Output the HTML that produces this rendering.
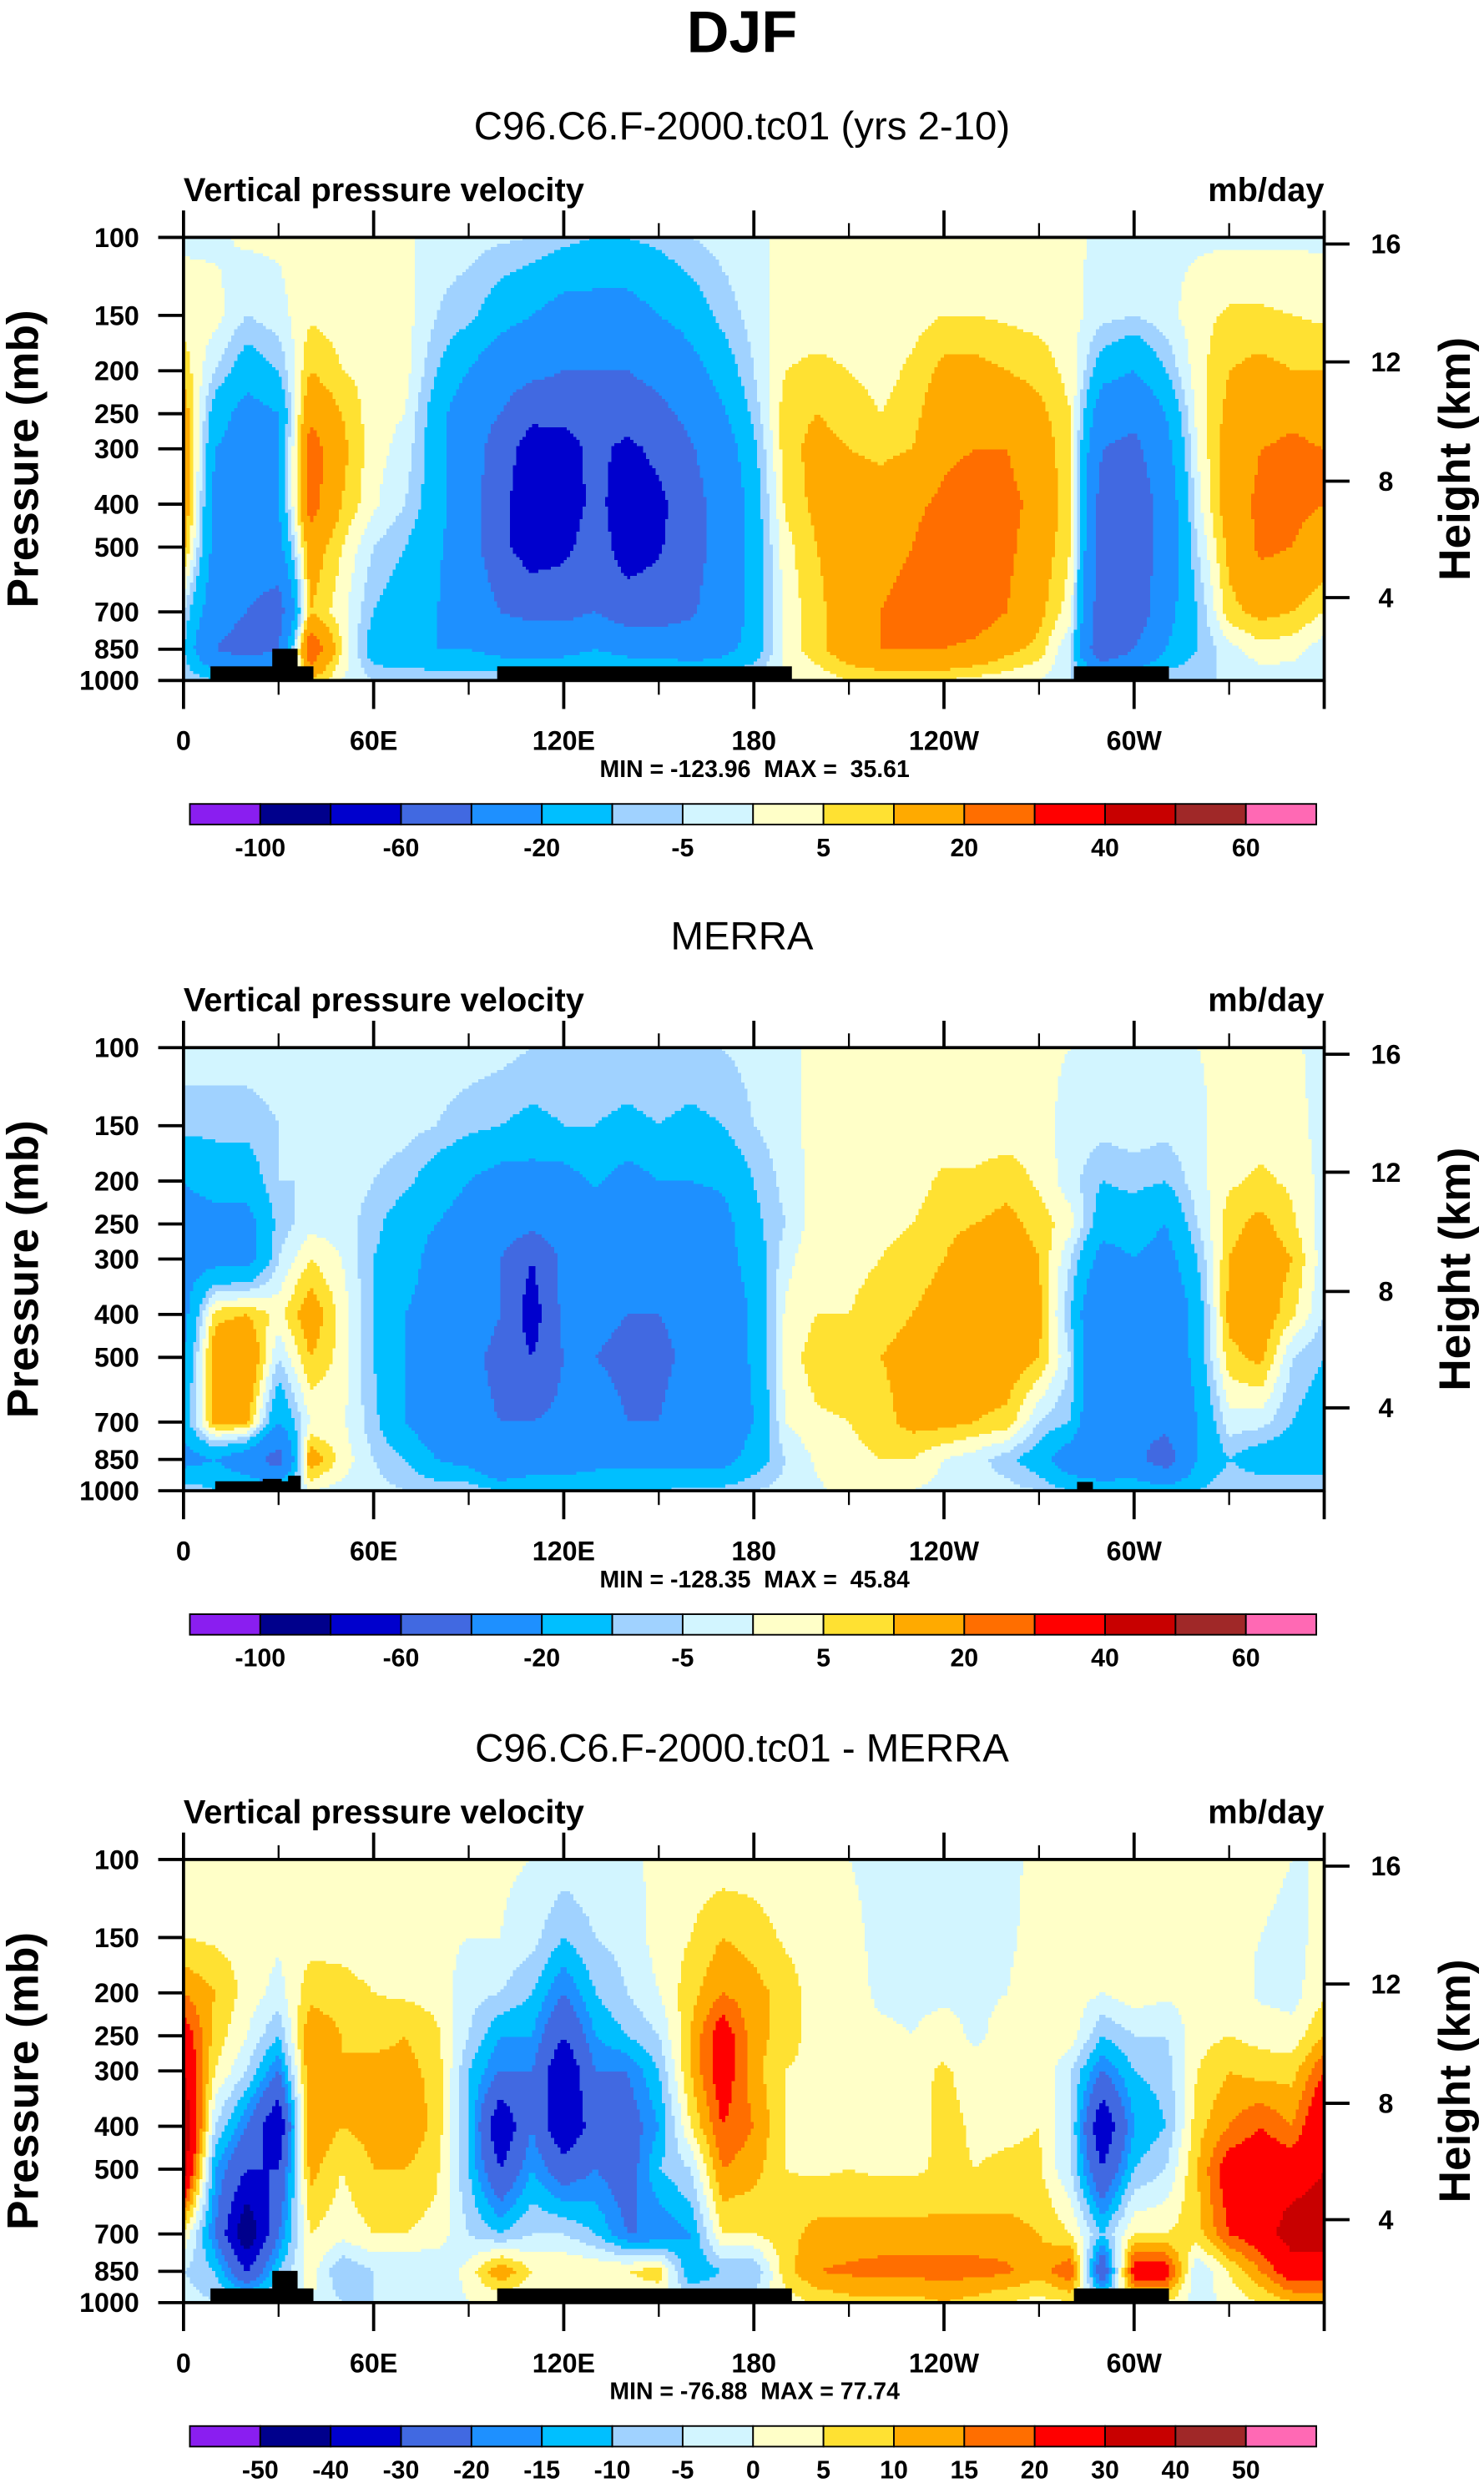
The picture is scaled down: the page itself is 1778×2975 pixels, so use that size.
<!DOCTYPE html>
<html><head><meta charset="utf-8"><style>
html,body{margin:0;padding:0;background:#fff}
svg{display:block}
text{font-family:"Liberation Sans",Arial,sans-serif;fill:#000;white-space:pre}
</style></head><body>
<svg id="fig" xmlns="http://www.w3.org/2000/svg" width="1778" height="2975" viewBox="0 0 938 1569" preserveAspectRatio="none">
<rect x="0" y="0" width="938" height="1569" fill="#fff"/>
<text x="469" y="33" text-anchor="middle" font-size="37" font-weight="bold">DJF</text>
<g id="panels"></g>
</svg>
<script>
const levels=[100,150,200,250,300,400,500,700,850,1000];
const lons=[0,10,20,30,40,50,60,70,80,90,100,110,120,130,140,150,160,170,180,190,200,210,220,230,240,250,260,270,280,290,300,310,320,330,340,350,360];
const modelValues=[
[-1,3,8,15,18,18,12,-5,-10,-5],[-1,2,-5,-15,-20,-25,-25,-30,-40,-10],[1,-5,-15,-25,-25,-30,-30,-40,-50,-10],[1,-2,-10,-20,-20,-20,-25,-50,-40,-10],
[2,4,10,18,25,25,15,10,30,10],[2,3,5,10,12,10,5,2,5,0],[2,3,3,2,2,1,-5,-10,-15,-5],[1,2,2,0,-2,-5,-10,-15,-18,-5],
[-3,-5,-10,-15,-15,-15,-18,-20,-20,-5],[-3,-8,-20,-30,-30,-30,-30,-25,-20,-5],[-4,-15,-30,-40,-50,-55,-55,-40,-25,-5],[-5,-20,-35,-55,-70,-72,-70,-45,-25,-5],
[-8,-25,-40,-55,-68,-70,-65,-45,-25,-5],[-10,-25,-40,-48,-55,-55,-50,-40,-20,-5],[-10,-25,-40,-50,-65,-70,-70,-50,-25,-5],[-8,-20,-35,-45,-55,-65,-62,-50,-25,-5],
[-5,-15,-25,-35,-42,-48,-48,-42,-30,-5],[-3,-8,-15,-22,-28,-32,-32,-32,-25,-5],[-1,-3,-5,-8,-12,-15,-15,-15,-15,-3],[1,3,5,8,8,6,3,2,2,0],
[1,3,6,10,12,12,10,8,8,2],[1,3,5,8,10,15,15,15,15,5],[1,3,3,5,8,15,18,20,20,5],[1,3,6,8,10,18,20,22,20,5],
[1,5,12,15,18,22,25,25,20,5],[1,5,12,18,20,25,25,25,18,3],[1,4,10,15,20,22,22,20,12,2],[1,3,8,12,15,18,15,12,8,0],
[1,2,3,5,5,5,5,2,-5,-5],[-1,-3,-15,-30,-40,-50,-50,-55,-60,-10],[-1,-5,-20,-35,-45,-55,-55,-55,-40,-10],[-1,-2,-10,-20,-25,-30,-30,-25,-20,-5],
[-1,3,3,2,0,-2,-5,-10,-10,-5],[-1,6,10,12,15,15,12,8,-2,-5],[-1,6,12,15,20,22,22,12,3,-3],[-1,5,10,18,22,22,20,10,2,-3],[-1,4,10,15,20,20,15,5,-3,-5]];
const merraValues=[
[-2,-8,-20,-25,-25,-25,-20,-15,-25,-5],[-2,-8,-15,-25,-25,8,15,12,-20,-10],[-2,-8,-15,-25,-25,10,20,12,-30,-10],[-2,-5,-5,-8,-5,3,-5,-20,-50,-10],
[-2,-3,-5,-2,5,15,10,0,15,0],[-2,-2,-2,-2,0,3,3,1,3,-2],[-2,-2,-5,-8,-10,-10,-10,-8,-5,-3],[-2,-3,-8,-15,-15,-20,-20,-20,-10,-5],
[-2,-5,-15,-20,-25,-25,-30,-30,-20,-5],[-2,-8,-20,-25,-30,-30,-35,-35,-25,-5],[-3,-10,-25,-30,-40,-40,-45,-40,-40,-10],[-5,-12,-25,-35,-60,-70,-60,-40,-30,-10],
[-5,-10,-25,-30,-35,-35,-40,-35,-30,-10],[-5,-10,-18,-30,-30,-35,-40,-30,-25,-10],[-5,-12,-25,-35,-40,-40,-45,-40,-25,-10],[-5,-10,-20,-30,-35,-40,-45,-40,-25,-10],
[-5,-12,-20,-30,-30,-35,-35,-30,-25,-8],[-5,-10,-18,-25,-25,-30,-30,-30,-25,-8],[-3,-5,-10,-12,-15,-18,-18,-20,-15,-5],[-1,-2,-3,-5,-2,1,2,0,-5,-3],
[1,2,2,3,5,5,8,4,1,-1],[1,2,2,2,3,5,8,5,3,2],[1,2,2,3,5,8,10,8,5,2],[1,2,3,5,8,10,12,12,5,0],
[1,2,6,8,10,12,15,12,0,-2],[1,2,6,10,15,20,15,10,-3,-3],[1,2,8,12,15,18,15,8,-8,-3],[1,2,4,8,10,12,10,-5,-15,-5],
[0,-2,-3,2,-5,-10,-5,-10,-30,-10],[-1,-3,-10,-15,-25,-40,-40,-40,-40,-10],[-1,-2,-8,-15,-20,-25,-30,-35,-35,-10],[-1,-3,-10,-20,-25,-35,-35,-35,-50,-15],
[0,-1,-2,-5,-10,-15,-15,-20,-20,-10],[1,2,4,8,10,12,8,-2,-10,-5],[1,3,6,12,15,15,12,-3,-15,-5],[1,2,4,6,10,6,-5,-10,-15,-5],[-2,-2,-2,-3,-3,-5,-10,-15,-15,-5]];
const diffValues=[
[2,5,15,25,30,40,35,5,-5,-2],[1,4,10,8,5,-5,-15,-20,-10,-5],[1,3,3,0,-5,-20,-30,-50,-30,-5],[1,1,-2,-10,-20,-40,-30,-20,-10,-5],
[1,3,8,15,15,15,12,5,3,0],[1,3,7,10,10,10,5,2,-10,-5],[1,2,5,8,12,12,10,5,-5,-5],[1,2,4,10,12,15,10,5,-5,-5],
[1,1,3,6,8,8,6,3,-5,-3],[1,0,-3,-5,-10,-10,-10,-5,2,0],[1,0,-5,-15,-20,-40,-30,-10,15,0],[0,-3,-10,-15,-20,-20,-15,-5,5,0],
[-2,-10,-20,-30,-40,-40,-25,-5,5,0],[-1,-5,-10,-15,-20,-25,-20,-10,5,0],[-1,-3,-5,-10,-20,-25,-25,-20,5,0],[1,2,0,-5,-10,-15,-10,-20,8,0],
[2,5,8,10,10,5,-5,-15,-15,-3],[2,10,15,25,25,20,15,5,-10,-3],[2,8,12,12,12,15,12,5,-10,-2],[1,4,8,8,5,5,5,8,8,2],
[1,2,2,2,3,3,4,12,15,6],[0,1,2,2,2,2,5,12,16,8],[-1,-1,-1,1,2,3,4,12,17,8],[-1,-1,-1,0,3,2,4,12,17,8],
[-1,-1,-1,2,6,7,6,12,17,10],[-1,-1,-1,-1,2,4,5,12,17,8],[-1,-1,0,2,3,4,6,12,16,5],[1,2,3,4,5,5,6,10,12,3],
[1,2,3,3,-5,-5,-5,5,20,5],[1,2,0,-10,-20,-40,-30,-10,-30,-5],[1,3,3,-5,-10,-15,-10,5,25,5],[1,2,1,-5,-8,-10,-5,5,25,5],
[1,1,2,3,5,8,10,8,-5,-3],[1,1,3,5,10,15,25,20,5,2],[1,0,-1,3,8,20,25,25,15,5],[0,-1,-2,2,8,15,25,35,25,10],[0,1,4,10,20,30,30,35,25,10]];
const absBounds=[-100,-80,-60,-40,-20,-10,-5,0,5,10,20,30,40,50,60];
const absLabels=["-100","-60","-20","-5","5","20","40","60"];
const diffBounds=[-50,-40,-30,-20,-15,-10,-5,0,5,10,15,20,30,40,50];
const diffLabels=["-50","-40","-30","-20","-15","-10","-5","0","5","10","15","20","30","40","50"];
const colors=["#8a1ef0","#00008c","#0000cd","#4169e1","#1e90ff","#00bfff","#a0d2ff","#d2f5ff","#ffffc8","#ffe132","#ffaa00","#ff6e00","#ff0000","#c80000","#a02828","#ff69b4"];
// topography: [lonStart, lonEnd, topPressure]
const topoModel=[[8.5,41,929],[28,36,848],[99,192,929],[281,311,929]];
const topoMerra=[[10,36,952],[25,31,940],[33,37,925],[282,287,955]];
const pressureTicks=[100,150,200,250,300,400,500,700,850,1000];
const heightTicks=[16,12,8,4];
const heightPressure=[103.5,191,355,650];
const lonTicks=[0,60,120,180,240,300];
const lonLabels=["0","60E","120E","180","120W","60W"];
const panels=[
 {off:0,title:"C96.C6.F-2000.tc01 (yrs 2-10)",vals:modelValues,bounds:absBounds,labels:absLabels,labelIdx:[0,2,4,6,8,10,12,14],topo:topoModel,minmax:"MIN = -123.96  MAX =  35.61",name:"model"},
 {off:512,title:"MERRA",vals:merraValues,bounds:absBounds,labels:absLabels,labelIdx:[0,2,4,6,8,10,12,14],topo:topoMerra,minmax:"MIN = -128.35  MAX =  45.84",name:"merra"},
 {off:1025,title:"C96.C6.F-2000.tc01 - MERRA",vals:diffValues,bounds:diffBounds,labels:diffLabels,labelIdx:[0,1,2,3,4,5,6,7,8,9,10,11,12,13,14],topo:topoModel,minmax:"MIN = -76.88  MAX = 77.74",name:"difference"}
];
const NS="http://www.w3.org/2000/svg";
const X0=116,X1=837,H=280;
function xs(lon){return X0+(lon/360)*(X1-X0);}
function ys(p,off){return 150+off+Math.log10(p/100)*H;}
function mk(tag,attrs,parent){const e=document.createElementNS(NS,tag);for(const k in attrs)e.setAttribute(k,attrs[k]);parent.appendChild(e);return e;}
function txt(s,attrs,parent){const e=mk("text",attrs,parent);e.textContent=s;return e;}
function cls(v,b){let i=0;while(i<b.length&&v>=b[i])i++;return i;}
function interp(vals,lon,lp){
  let i=Math.min(Math.floor(lon/10),lons.length-2);const fx=(lon-lons[i])/10;
  const lls=levels.map(l=>Math.log10(l));let j=0;while(j<levels.length-2&&lp>lls[j+1])j++;
  const fy=Math.max(0,Math.min(1,(lp-lls[j])/(lls[j+1]-lls[j])));
  const a=vals[i][j],b=vals[i+1][j],c=vals[i][j+1],d=vals[i+1][j+1];
  return (a*(1-fx)+b*fx)*(1-fy)+(c*(1-fx)+d*fx)*fy;
}
const root=document.getElementById("panels");
panels.forEach(P=>{
  const g=mk("g",{},root);
  
  
  const off=P.off;
  const t=txt(P.title,{x:469,y:88+off,"text-anchor":"middle","font-size":25},g);
  
  
  const t2=txt("Vertical pressure velocity",{x:116,y:127+off,"font-size":21,"font-weight":"bold"},g);
  
  
  const t3=txt("mb/day",{x:837,y:127+off,"text-anchor":"end","font-size":21,"font-weight":"bold"},g);
  
  
  const fg=mk("g",{"shape-rendering":"crispEdges"},g);
  
  
  const NX=360,NY=140,dl=360/NX;
  for(let r=0;r<NY;r++){
    const lp0=2+r/NY,lp1=2+(r+1)/NY,lpm=(lp0+lp1)/2;
    const y0=ys(Math.pow(10,lp0),off),y1=ys(Math.pow(10,lp1),off);
    let start=0,cur=cls(interp(P.vals,dl/2,lpm),P.bounds);
    for(let c=1;c<=NX;c++){
      const k=c<NX?cls(interp(P.vals,(c+0.5)*dl,lpm),P.bounds):-1;
      if(k!==cur){
        const cell=mk("rect",{x:xs(start*dl).toFixed(2),y:y0.toFixed(2),width:(xs(c*dl)-xs(start*dl)+0.3).toFixed(2),height:(y1-y0+0.3).toFixed(2),fill:colors[cur]},fg);
        
        
        start=c;cur=k;
      }
    }
  }
  P.topo.forEach(tp=>{
    const r=mk("rect",{x:xs(tp[0]),y:ys(tp[2],off),width:xs(tp[1])-xs(tp[0]),height:ys(1000,off)-ys(tp[2],off),fill:"#000"},g);
    
    
  });
  const frame=mk("rect",{x:X0,y:150+off,width:X1-X0,height:H,fill:"none",stroke:"#000","stroke-width":2},g);
  
  
  pressureTicks.forEach(p=>{
    const y=ys(p,off);
    mk("line",{x1:X0-16,x2:X0,y1:y,y2:y,stroke:"#000","stroke-width":2},g);
    const l=txt(String(p),{x:88,y:y+6,"text-anchor":"end","font-size":17,"font-weight":"bold"},g);
    
    
  });
  heightTicks.forEach((h,i)=>{
    const y=ys(heightPressure[i],off);
    mk("line",{x1:X1,x2:X1+16,y1:y,y2:y,stroke:"#000","stroke-width":2},g);
    const l=txt(String(h),{x:876,y:y+6,"text-anchor":"middle","font-size":17,"font-weight":"bold"},g);
    
    
  });
  for(let lon=0;lon<=360;lon+=30){
    const x=xs(lon),major=lon%60===0;
    mk("line",{x1:x,x2:x,y1:150+off-(major?17:9),y2:150+off,stroke:"#000","stroke-width":major?2:1.2},g);
    mk("line",{x1:x,x2:x,y1:430+off,y2:430+off+(major?18:9),stroke:"#000","stroke-width":major?2:1.2},g);
  }
  lonTicks.forEach((lon,i)=>{
    const l=txt(lonLabels[i],{x:xs(lon),y:474+off,"text-anchor":"middle","font-size":17,"font-weight":"bold"},g);
    
    
  });
  const yt=txt("Pressure (mb)",{x:0,y:0,"text-anchor":"middle","font-size":28,"font-weight":"bold",transform:`translate(24,${290+off}) rotate(-90)`},g);
  
  
  const yr=txt("Height (km)",{x:0,y:0,"text-anchor":"middle","font-size":28,"font-weight":"bold",transform:`translate(929,${290+off}) rotate(-90)`},g);
  
  
  const mm=txt(P.minmax,{x:477,y:491+off,"text-anchor":"middle","font-size":15,"font-weight":"bold"},g);
  
  
  const cb=mk("g",{},g);
  
  
  const bw=(832-120)/16;
  colors.forEach((c,i)=>{
    const r=mk("rect",{x:120+i*bw,y:508+off,width:bw,height:13,fill:c,stroke:"#000","stroke-width":1},cb);
    
    
  });
  P.labelIdx.forEach((bi,i)=>{
    const l=txt(P.labels[i],{x:120+(bi+1)*bw,y:541+off,"text-anchor":"middle","font-size":16,"font-weight":"bold"},cb);
    
    
  });
});
</script>
</body></html>
